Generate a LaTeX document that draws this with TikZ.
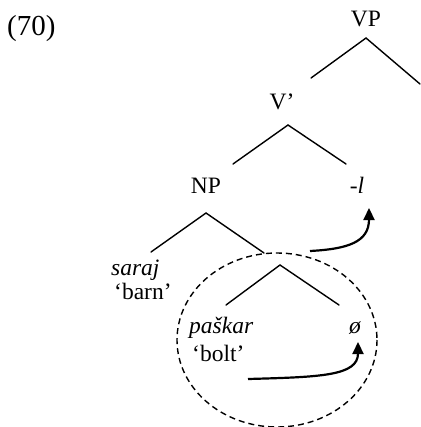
\documentclass[tikz,border=0pt]{standalone}
\usepackage{fontspec}
\setmainfont{Liberation Serif}
\usetikzlibrary{arrows.meta}
\tikzset{
  lbl/.style={inner sep=0pt, font=\fontsize{23.5}{26}\selectfont, anchor=base},
  lbll/.style={lbl, anchor=base west},
  branch/.style={line width=1.4pt, line cap=round},
  mover/.style={line width=2.2pt, -{Triangle[length=12pt,width=11pt]}},
  island/.style={line width=1.4pt, dash pattern=on 6pt off 4pt}
}
\begin{document}
\begin{tikzpicture}[x=1pt,y=-1pt]
  \useasboundingbox (0,0) rectangle (420,427);

  % example number
  \node[lbll, font=\fontsize{29}{32}\selectfont] (num) at (7,36) {(70)};

  % labels
  \node[lbl] (vp) at (366,27) {VP};
  \node[lbl] (vbar) at (282,110) {V’};
  \node[lbl] (np) at (206,194) {NP};
  \node[lbl] (suf) at (357,194) {\itshape -l};
  \node[lbll] (saraj) at (111,275) {\itshape saraj};
  \node[lbll] (barn) at (114,299) {‘barn’};
  \node[lbll] (paskar) at (189,333) {\itshape paškar};
  \node[lbll] (bolt) at (192,361) {‘bolt’};
  \node[lbl] (zero) at (355,333) {\itshape ø};

  % branch points
  \coordinate (vpL) at (311,78);  \coordinate (vpT) at (366,38);  \coordinate (vpR) at (420,84);
  \coordinate (vbL) at (233,164); \coordinate (vbT) at (288,125); \coordinate (vbR) at (346,164);
  \coordinate (npL) at (151,252); \coordinate (npT) at (206,213); \coordinate (npR) at (264,253);
  \coordinate (inL) at (226,305); \coordinate (inT) at (280,265); \coordinate (inR) at (339,305);

  \draw[branch] (vpL) -- (vpT) -- (vpR);
  \draw[branch] (vbL) -- (vbT) -- (vbR);
  \draw[branch] (npL) -- (npT) -- (npR);
  \draw[branch] (inL) -- (inT) -- (inR);

  % dashed island around the lower constituent
  \draw[island] (277,340) ellipse [x radius=100, y radius=87];

  % movement arrows
  \coordinate (m1s) at (310,251); \coordinate (m1e) at (369,208);
  \coordinate (m2s) at (248,379); \coordinate (m2e) at (358,342);
  \draw[mover] (m1s) .. controls (348,249) and (369,242) .. (m1e);
  \draw[mover] (m2s) .. controls (320,377) and (358,376) .. (m2e);
\end{tikzpicture}
\end{document}
